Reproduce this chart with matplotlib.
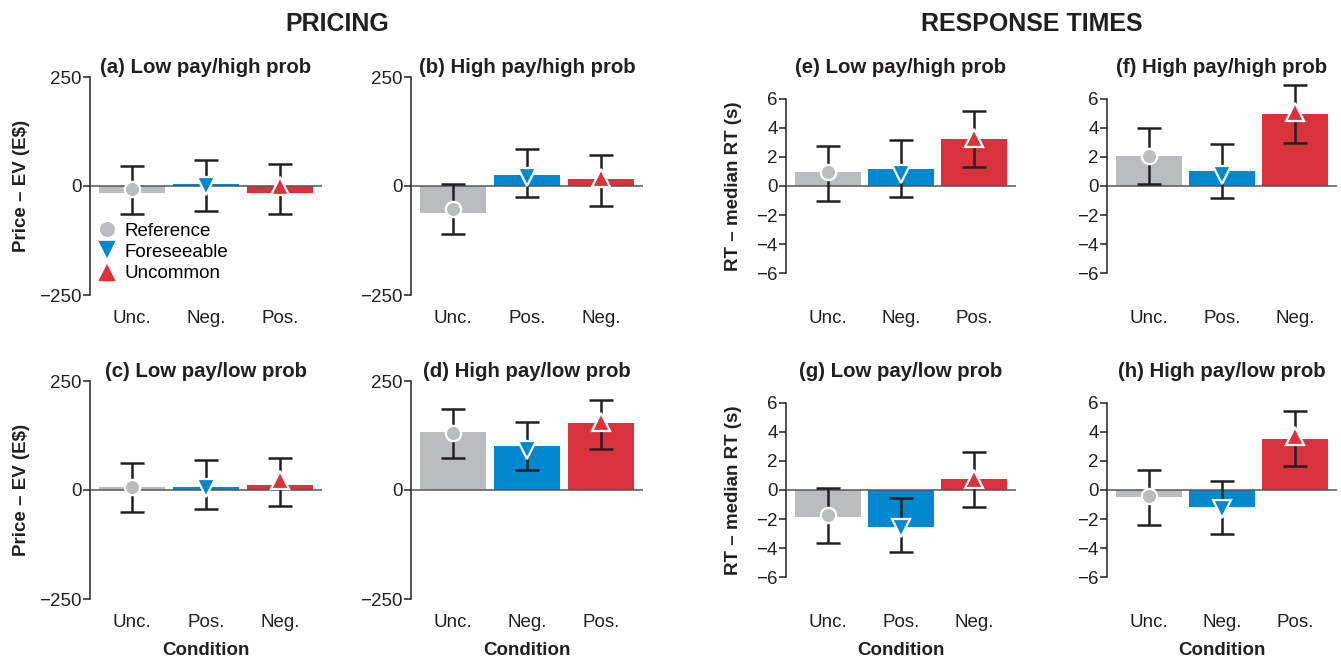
import matplotlib
matplotlib.use("Agg")
import matplotlib.pyplot as plt
from matplotlib.lines import Line2D

plt.rcParams['font.family'] = ['Liberation Sans', 'DejaVu Sans']

# colours / marker per condition type (Reference, Foreseeable, Uncommon)
gray = "#BBBCBF"
blue = "#0088CE"
red = "#D9323C"
ink = "#231F20"
legend_names = ["Reference", "Foreseeable", "Uncommon"]

# ---- pricing data ----
a_labels = ["Unc.", "Neg.", "Pos."]
a_bars = [-15, 5, -15]
a_marks = [-7, -1, 0]
a_low = [-64, -57, -64]
a_high = [47, 60, 50]

b_labels = ["Unc.", "Pos.", "Neg."]
b_bars = [-63, 25, 16]
b_marks = [-53, 20, 18]
b_low = [-109, -26, -46]
b_high = [5, 85, 71]

c_labels = ["Unc.", "Pos.", "Neg."]
c_bars = [7, 7, 12]
c_marks = [7, 5, 24]
c_low = [-51, -44, -36]
c_high = [61, 69, 73]

d_labels = ["Unc.", "Neg.", "Pos."]
d_bars = [132, 102, 153]
d_marks = [130, 92, 155]
d_low = [74, 47, 95]
d_high = [185, 157, 207]

# ---- response time data ----
e_labels = ["Unc.", "Neg.", "Pos."]
e_bars = [0.96, 1.15, 3.2]
e_marks = [0.96, 0.8, 3.32]
e_low = [-1.03, -0.73, 1.3]
e_high = [2.77, 3.16, 5.13]

f_labels = ["Unc.", "Pos.", "Neg."]
f_bars = [2.08, 1.05, 4.97]
f_marks = [2.08, 0.73, 5.1]
f_low = [0.14, -0.82, 2.98]
f_high = [3.98, 2.89, 6.98]

g_labels = ["Unc.", "Pos.", "Neg."]
g_bars = [-1.83, -2.52, 0.74]
g_marks = [-1.73, -2.59, 0.76]
g_low = [-3.65, -4.3, -1.15]
g_high = [0.16, -0.53, 2.6]

h_labels = ["Unc.", "Neg.", "Pos."]
h_bars = [-0.51, -1.2, 3.53]
h_marks = [-0.44, -1.32, 3.7]
h_low = [-2.38, -3.05, 1.62]
h_high = [1.38, 0.65, 5.45]

W, H = 1341, 661
fig = plt.figure(figsize=(W / 100, H / 100), dpi=100)

def box(x0, x1, y0, y1):
    return [x0 / W, 1 - y1 / H, (x1 - x0) / W, (y1 - y0) / H]

panels = [
    ("(a) Low pay/high prob", a_labels, a_bars, a_marks, a_low, a_high, box(90, 322, 77, 295), "price", True, False),
    ("(b) High pay/high prob", b_labels, b_bars, b_marks, b_low, b_high, box(411, 643, 77, 295), "price", False, False),
    ("(c) Low pay/low prob", c_labels, c_bars, c_marks, c_low, c_high, box(90, 322, 381, 599), "price", True, True),
    ("(d) High pay/low prob", d_labels, d_bars, d_marks, d_low, d_high, box(411, 643, 381, 599), "price", False, True),
    ("(e) Low pay/high prob", e_labels, e_bars, e_marks, e_low, e_high, box(786, 1016, 77, 295), "rt", True, False),
    ("(f) High pay/high prob", f_labels, f_bars, f_marks, f_low, f_high, box(1107, 1337, 77, 295), "rt", False, False),
    ("(g) Low pay/low prob", g_labels, g_bars, g_marks, g_low, g_high, box(786, 1016, 381, 599), "rt", True, True),
    ("(h) High pay/low prob", h_labels, h_bars, h_marks, h_low, h_high, box(1107, 1337, 381, 599), "rt", False, True),
]

colors = [gray, blue, red]
markers = ["o", "v", "^"]
msizes = [11, 13, 13]
xs = [0, 1, 2]
fs = 13.5

for title, labels, bars, marks, low, high, rect, kind, ylab, xlab in panels:
    ax = fig.add_axes(rect)
    ax.bar(xs, bars, width=0.9, color=colors, zorder=2)
    ax.axhline(0, color="#555555", lw=1.1, zorder=3)
    for i in range(3):
        ax.errorbar(xs[i], marks[i], yerr=[[marks[i] - low[i]], [high[i] - marks[i]]],
                    fmt="none", ecolor=ink, elinewidth=1.8, capsize=8.5, capthick=1.8, zorder=4)
        ax.plot(xs[i], marks[i], marker=markers[i], ms=msizes[i], color=colors[i],
                mec="white", mew=1.6, zorder=5)
    ax.set_xlim(-0.57, 2.57)
    if kind == "price":
        ax.set_ylim(-250, 250)
        ax.set_yticks([-250, 0, 250])
        ax.spines["left"].set_bounds(-250, 250)
        ylabel = "Price \u2013 EV (E$)"
        lx = -0.26
    else:
        ax.set_ylim(-7.5, 7.5)
        ax.set_yticks([-6, -4, -2, 0, 2, 4, 6])
        ax.spines["left"].set_bounds(-6, 6)
        ylabel = "RT \u2013 median RT (s)"
        lx = -0.19
    for s in ["top", "right", "bottom"]:
        ax.spines[s].set_visible(False)
    ax.spines["left"].set_color(ink)
    ax.spines["left"].set_linewidth(1.1)
    ax.set_xticks(xs)
    ax.set_xticklabels(labels)
    ax.tick_params(axis="x", length=0, pad=10.5, labelsize=fs, labelcolor=ink)
    ax.tick_params(axis="y", length=5, width=1.1, color=ink, labelsize=fs, labelcolor=ink, pad=1)
    ax.set_title(title, fontsize=14.7, fontweight="bold", color=ink, pad=0)
    if ylab:
        ax.set_ylabel(ylabel, fontsize=fs, fontweight="bold", color=ink)
        ax.yaxis.set_label_coords(lx, 0.5)
    if xlab:
        ax.set_xlabel("Condition", fontsize=fs, fontweight="bold", color=ink, labelpad=8.5)
    if title.startswith("(a)"):
        handles = [Line2D([], [], ls="none", marker=markers[i], ms=msizes[i] + 1, color=colors[i],
                          mec="white", mew=1.2) for i in range(3)]
        ax.legend(handles, legend_names, loc="upper left", bbox_to_anchor=(0.0, 0.367),
                  frameon=False, fontsize=fs, handlelength=1.0, handletextpad=0.45,
                  labelspacing=0.22, borderaxespad=0)

fig.text(337 / W, 1 - 24 / H, "PRICING", ha="center", va="center", fontsize=18,
         fontweight="bold", color=ink)
fig.text(1032 / W, 1 - 24 / H, "RESPONSE TIMES", ha="center", va="center", fontsize=18,
         fontweight="bold", color=ink)

fig.savefig("out.png", dpi=100)
